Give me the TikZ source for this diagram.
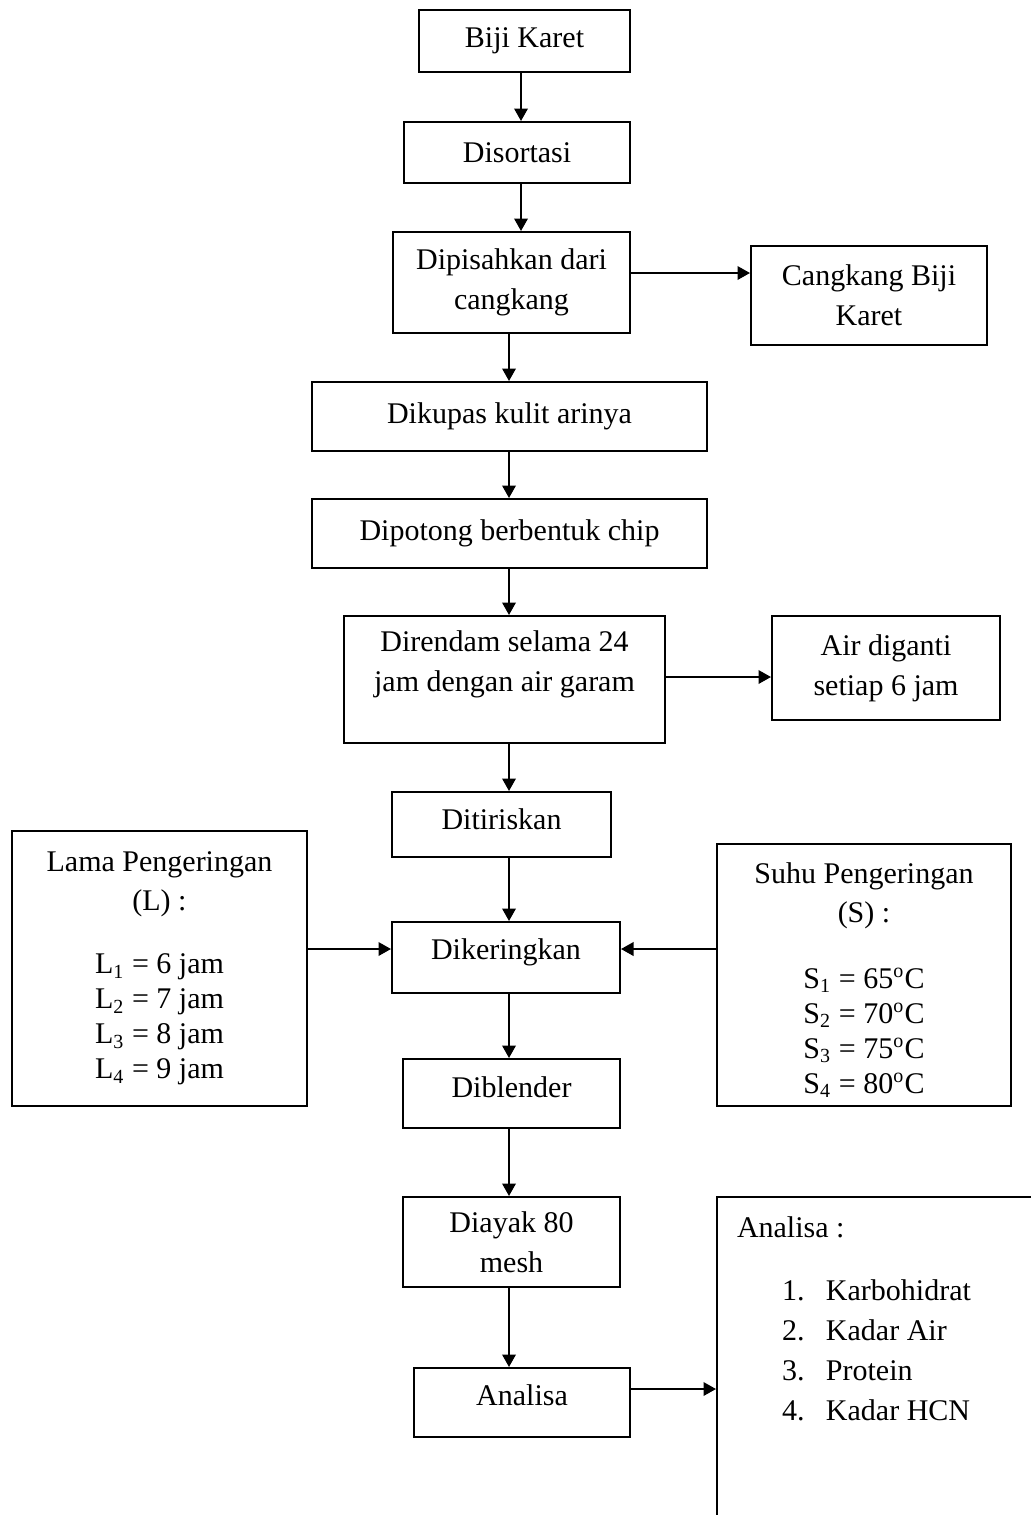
\documentclass[tikz,border=0pt]{standalone}
\usepackage{fontspec}
\setmainfont{Liberation Serif}
\usetikzlibrary{arrows.meta, positioning}
\newdimen\px
\px=0.4pt
\tikzset{
     stepbox/.style={draw, line width=0.8pt, align=center, inner sep=2pt,
         font=\fontsize{12}{16}\selectfont},
     listbox/.style={stepbox, font=\fontsize{12}{14}\selectfont},
     boxdim/.style 2 args={minimum width=#1\px, minimum height=#2\px},
     arr/.style={line width=0.8pt, -{Triangle[length=5pt, width=5.4pt]}},
}

\begin{document}
\begin{tikzpicture}[x=0.4pt, y=-0.4pt]
\useasboundingbox (0,0) rectangle (1031,1515);
\clip (0,0) rectangle (1031,1515);

% main chain
\node[stepbox, boxdim={211}{62}] (bk) at (524.5,41) {Biji Karet};
\node[stepbox, boxdim={226}{61}] (dsort) at (517,152.5) {Disortasi};
\node[stepbox, boxdim={237}{101}] (dpisah) at (511.5,282.5) {Dipisahkan dari\\cangkang};
\node[stepbox, boxdim={395}{69}] (dkupas) at (509.5,416.5) {Dikupas kulit arinya};
\node[stepbox, boxdim={395}{69}] (dpotong) at (509.5,533.5) {Dipotong berbentuk chip};
\node[stepbox, boxdim={321}{127}, text depth=15pt] (drendam) at (504.5,679.5) {Direndam selama 24\\jam dengan air garam};
\node[stepbox, boxdim={219}{65}, text depth=4.6pt] (dtiris) at (501.5,824.5) {Ditiriskan};
\node[stepbox, boxdim={228}{71}, text depth=6.6pt] (dkering) at (506,957.5) {Dikeringkan};
\node[stepbox, boxdim={217}{69}, text depth=4.8pt] (dblend) at (511.5,1093.5) {Diblender};
\node[stepbox, boxdim={217}{90}] (dayak) at (511.5,1242) {Diayak 80\\mesh};
\node[stepbox, boxdim={216}{69}, text depth=5.6pt] (analisa) at (522,1402.5) {Analisa};

% side boxes
\node[stepbox, boxdim={236}{99}] (ckg) at (869,295.5) {Cangkang Biji\\Karet};
\node[stepbox, boxdim={228}{104}] (air) at (886,668) {Air diganti\\setiap 6 jam};
\node[listbox, boxdim={295}{275}] (lama) at (159.5,968.5)
    {Lama Pengeringan\\[1.6pt](L) :\\[11.2pt]
     L\textsubscript{1} = 6 jam\\L\textsubscript{2} = 7 jam\\
     L\textsubscript{3} = 8 jam\\L\textsubscript{4} = 9 jam};
\node[listbox, boxdim={294}{262}, text height=96.2pt] (suhu) at (864,975)
    {Suhu Pengeringan\\[1.6pt](S) :\\[12.4pt]
     S\textsubscript{1} = 65\textsuperscript{o}C\\S\textsubscript{2} = 70\textsuperscript{o}C\\
     S\textsubscript{3} = 75\textsuperscript{o}C\\S\textsubscript{4} = 80\textsuperscript{o}C};
\node[stepbox, anchor=north west, align=flush left, text width=200pt,
      inner xsep=8pt, inner ysep=8pt, text depth=150pt] (hasil) at (716,1196)
    {Analisa :\\[9.2pt]
     \hspace*{18pt}\makebox[17.6pt][l]{1.}Karbohidrat\\
     \hspace*{18pt}\makebox[17.6pt][l]{2.}Kadar Air\\
     \hspace*{18pt}\makebox[17.6pt][l]{3.}Protein\\
     \hspace*{18pt}\makebox[17.6pt][l]{4.}Kadar HCN};

% connector lines
\coordinate (spinetop) at (521,0);
\coordinate (spine) at (509,0);
\coordinate (lvlckg) at (0,273);
\coordinate (lvlair) at (0,677);
\coordinate (lvlkering) at (0,949);
\coordinate (lvlhasil) at (0,1389);

\draw[arr] (bk.south -| spinetop) -- (dsort.north -| spinetop);
\draw[arr] (dsort.south -| spinetop) -- (dpisah.north -| spinetop);
\foreach \from/\to in {dpisah/dkupas, dkupas/dpotong, dpotong/drendam, drendam/dtiris,
    dtiris/dkering, dkering/dblend, dblend/dayak, dayak/analisa}
    \draw[arr] (\from.south -| spine) -- (\to.north -| spine);

\draw[arr] (dpisah.east |- lvlckg) -- (ckg.west |- lvlckg);
\draw[arr] (drendam.east |- lvlair) -- (air.west |- lvlair);
\draw[arr] (lama.east |- lvlkering) -- (dkering.west |- lvlkering);
\draw[arr] (suhu.west |- lvlkering) -- (dkering.east |- lvlkering);
\draw[arr] (analisa.east |- lvlhasil) -- (hasil.west |- lvlhasil);

\end{tikzpicture}
\end{document}
